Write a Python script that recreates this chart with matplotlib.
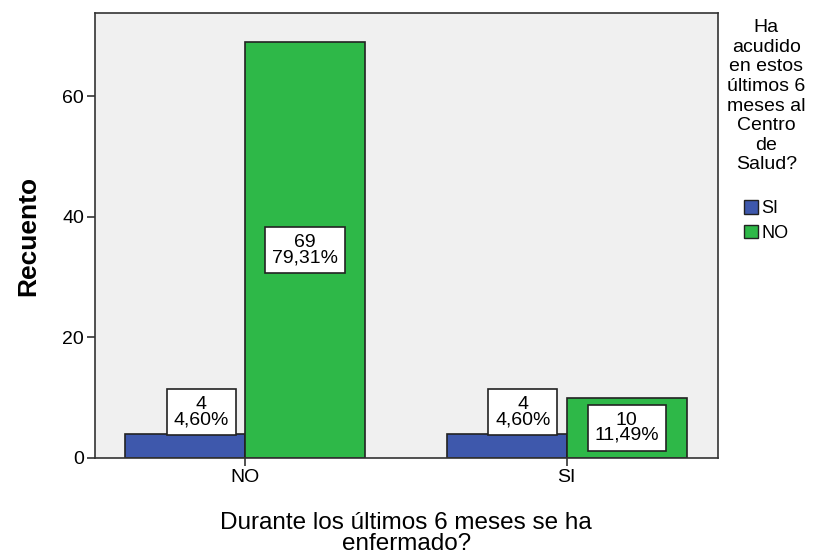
import numpy as np
import matplotlib
matplotlib.use("Agg")
import matplotlib.pyplot as plt
from matplotlib.patches import Patch

categorias = ["NO", "SI"]
series = ["SI", "NO"]
valores_si = [4, 4]
valores_no = [69, 10]
porcentajes_si = ["4,60%", "4,60%"]
porcentajes_no = ["79,31%", "11,49%"]
yticks = [0, 20, 40, 60]

azul = "#3E58AC"
verde = "#2EB848"

plt.rcParams['font.family'] = ['Liberation Sans', 'DejaVu Sans']

fig = plt.figure(figsize=(8.14, 5.59), dpi=100)
ax = fig.add_axes([0.1167, 0.1807, 0.765, 0.796])
ax.set_facecolor("#F0F0F0")

x = np.arange(len(categorias))
w = 0.373
ax.bar(x - w / 2, valores_si, w, color=azul, edgecolor="#222222", linewidth=1.2)
ax.bar(x + w / 2, valores_no, w, color=verde, edgecolor="#222222", linewidth=1.2)

caja = dict(boxstyle="square,pad=0.35", facecolor="white", edgecolor="#222222", linewidth=1.2)
for i in range(len(categorias)):
    # etiqueta de la barra azul desplazada hacia arriba y a la derecha (estilo SPSS)
    ax.text(x[i] - w / 2 + 0.05, valores_si[i] + 3.6,
            f"{valores_si[i]}\n{porcentajes_si[i]}",
            ha="center", va="center", fontsize=14, linespacing=0.85, bbox=caja)
    ax.text(x[i] + w / 2, valores_no[i] / 2,
            f"{valores_no[i]}\n{porcentajes_no[i]}",
            ha="center", va="center", fontsize=14, linespacing=0.85, bbox=caja)

ax.set_xlim(-0.466, 1.469)
ax.set_ylim(0, 73.8)
ax.set_xticks(x)
ax.set_xticklabels(categorias, fontsize=14)
ax.set_yticks(yticks)
ax.set_yticklabels([str(t) for t in yticks], fontsize=14)
ax.tick_params(axis="both", direction="out", length=6, width=1.2, color="#333333", pad=2)
for s in ax.spines.values():
    s.set_color("#333333")
    s.set_linewidth(1.2)

ax.set_ylabel("Recuento", fontsize=19, fontweight="bold", labelpad=16)
ax.set_xlabel("Durante los últimos 6 meses se ha\nenfermado?", fontsize=17.5,
              linespacing=0.92, labelpad=19)

handles = [Patch(facecolor=azul, edgecolor="#222222"), Patch(facecolor=verde, edgecolor="#222222")]
leg = fig.legend(handles, series,
                 title="Ha\nacudido\nen estos\núltimos 6\nmeses al\nCentro\nde\nSalud?\n",
                 loc="upper left", bbox_to_anchor=(0.88, 0.985), frameon=False,
                 fontsize=13, title_fontsize=14, handlelength=0.78, handleheight=0.78,
                 handletextpad=0.2, labelspacing=0.4, borderpad=0.1)
leg.get_title().set_multialignment("center")
leg.get_title().set_linespacing(1.2)

fig.savefig("out.png", dpi=100)
